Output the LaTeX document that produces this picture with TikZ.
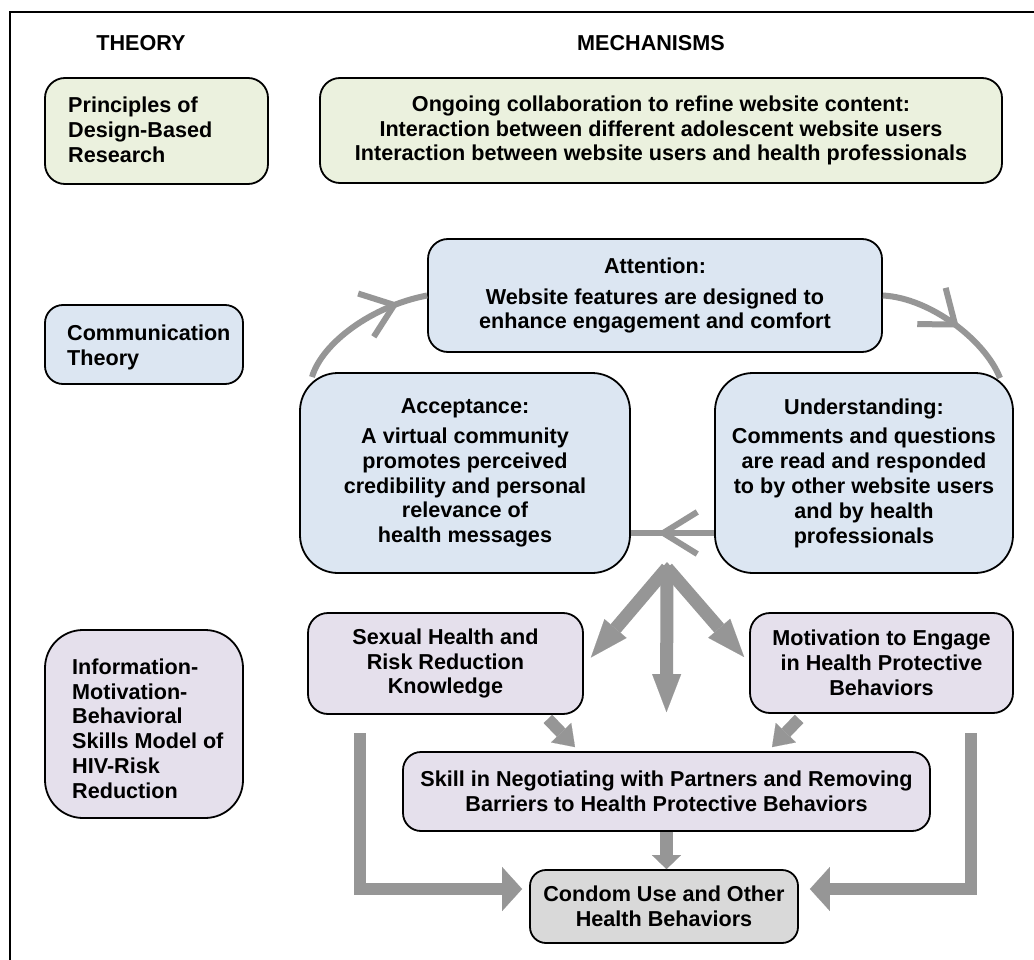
\documentclass[tikz,border=0pt]{standalone}
\usepackage{fontspec}
\setmainfont{Liberation Sans}
\usetikzlibrary{arrows.meta,decorations.markings}
\definecolor{gfill}{HTML}{EBF1DE}
\definecolor{bfill}{HTML}{DCE6F2}
\definecolor{lfill}{HTML}{E5E0EC}
\definecolor{cfill}{HTML}{D9D9D9}
\definecolor{agray}{HTML}{969696}
\tikzset{
  txt/.style={font=\fontsize{21.6pt}{24.8pt}\selectfont\bfseries, text=black, inner sep=0pt},
  boxnode/.style={txt, draw=black, line width=1.8pt, align=center},
  cyc/.style={draw=agray, line width=6pt, postaction={decorate},
    decoration={markings, mark=at position #1 with {\arrow{Straight Barb[length=30pt,width=46pt]}}}},
  fat/.style={draw=agray, line width=13pt, line join=miter,
    -{Triangle[length=38pt,width=29pt,line width=0.1pt]}},
  small/.style={draw=agray, line width=12pt,
    -{Triangle[length=20pt,width=28pt,line width=0.1pt]}},
  ell/.style={draw=agray, line width=12pt, line join=miter,
    -{Triangle[length=20pt,width=44pt,line width=0.1pt]}}
}
\begin{document}
\begin{tikzpicture}[x=1pt,y=-1pt]
\useasboundingbox (0,0) rectangle (1034,960);
\fill[white] (0,0) rectangle (1034,960);
\draw[line width=1.8pt] (10,960) -- (10,12) -- (1034,12);

% headers
\node[txt] (hth) at (141,43) {THEORY};
\node[txt] (hme) at (651,43) {MECHANISMS};

% theory boxes
\node[boxnode, fill=gfill, rounded corners=20pt, minimum width=223pt, minimum height=106pt] (prin) at (156.5,131) {};
\node[txt, align=left, anchor=west] (printxt) at (68,130) {Principles of\\Design-Based\\Research};
\node[boxnode, fill=bfill, rounded corners=18pt, minimum width=198pt, minimum height=79pt] (comm) at (144,344.5) {};
\node[txt, align=left, anchor=west] (commtxt) at (67,347.5) {Communication\\Theory};
\node[boxnode, fill=lfill, rounded corners=38pt, minimum width=198pt, minimum height=188pt] (imb) at (144,724) {};
\node[txt, align=left, anchor=west] (imbtxt) at (72,728.5) {Information-\\Motivation-\\Behavioral\\Skills Model of\\HIV-Risk\\Reduction};

% mechanism boxes
\node[boxnode, fill=gfill, rounded corners=20pt, minimum width=682pt, minimum height=105pt] (ong) at (661,130.5)
  {Ongoing collaboration to refine website content:\\Interaction between different adolescent website users\\Interaction between website users and health professionals};
\node[boxnode, fill=bfill, rounded corners=20pt, minimum width=454pt, minimum height=113pt] (att) at (655,295.5)
  {Attention:\\[6pt]Website features are designed to\\enhance engagement and comfort};
\node[boxnode, fill=bfill, rounded corners=38pt, minimum width=330pt, minimum height=200pt] (acc) at (465,473)
  {Acceptance:\\[5pt]A virtual community\\promotes perceived\\credibility and personal\\relevance of\\health messages};
\node[boxnode, fill=bfill, rounded corners=38pt, minimum width=298pt, minimum height=200pt] (und) at (864,473)
  {Understanding:\\[5pt]Comments and questions\\are read and responded\\to by other website users\\and by health\\professionals};
\node[boxnode, fill=lfill, rounded corners=20pt, minimum width=275pt, minimum height=101pt] (sex) at (445.5,663.5)
  {Sexual Health and\\Risk Reduction\\Knowledge};
\node[boxnode, fill=lfill, rounded corners=20pt, minimum width=263pt, minimum height=100pt] (mot) at (881.5,663)
  {Motivation to Engage\\in Health Protective\\Behaviors};
\node[boxnode, fill=lfill, rounded corners=18pt, minimum width=527pt, minimum height=79pt] (skill) at (666.5,791.5)
  {Skill in Negotiating with Partners and Removing\\Barriers to Health Protective Behaviors};
\node[boxnode, fill=cfill, rounded corners=16pt, minimum width=268pt, minimum height=73pt] (con) at (664,906.5)
  {Condom Use and Other\\Health Behaviors};

% cycle arrows
\coordinate (a1) at (312,377);
\coordinate (a2) at (1000,378);
\draw[cyc=0.8] (a1) .. controls (322,343) and (372,306) .. (att.west);
\draw[cyc=0.56] (att.east) .. controls (930,298) and (985,340) .. (a2);
\draw[draw=agray, line width=6pt, postaction={decorate},
  decoration={markings, mark=at position 0.68 with {\arrow{Straight Barb[length=34pt,width=42pt]}}}]
  ([yshift=-60pt]und.west) -- ([yshift=-60pt]acc.east);

% fork arrows
\coordinate (fork) at (667,568);
\draw[fat] (fork) -- ([xshift=7pt,yshift=6pt]sex.east);
\draw[fat] (fork) -- ([xshift=-5pt,yshift=6pt]mot.west);
\draw[fat] ([yshift=-2pt]fork) -- ([yshift=39pt]skill.north);
\fill[agray] (667,562) -- (674,570) -- (660,570) -- cycle;

% small arrows
\draw[small] ([xshift=-36pt,yshift=-4pt]sex.south east) -- ([xshift=-91.5pt,yshift=4pt]skill.north);
\draw[small] ([xshift=50pt,yshift=-5pt]mot.south west) -- ([xshift=105.5pt,yshift=4pt]skill.north);
\draw[draw=agray, line width=13pt, -{Triangle[length=14pt,width=29pt,line width=0.1pt]}]
  (skill.south) -- (skill.south |- con.north);

% L arrows
\coordinate (lstart) at (360,733);
\coordinate (rstart) at (971,733);
\draw[ell] (lstart) |- ([xshift=-7pt,yshift=17.5pt]con.west);
\draw[ell] (rstart) |- ([xshift=11pt,yshift=17.5pt]con.east);
\end{tikzpicture}
\end{document}
